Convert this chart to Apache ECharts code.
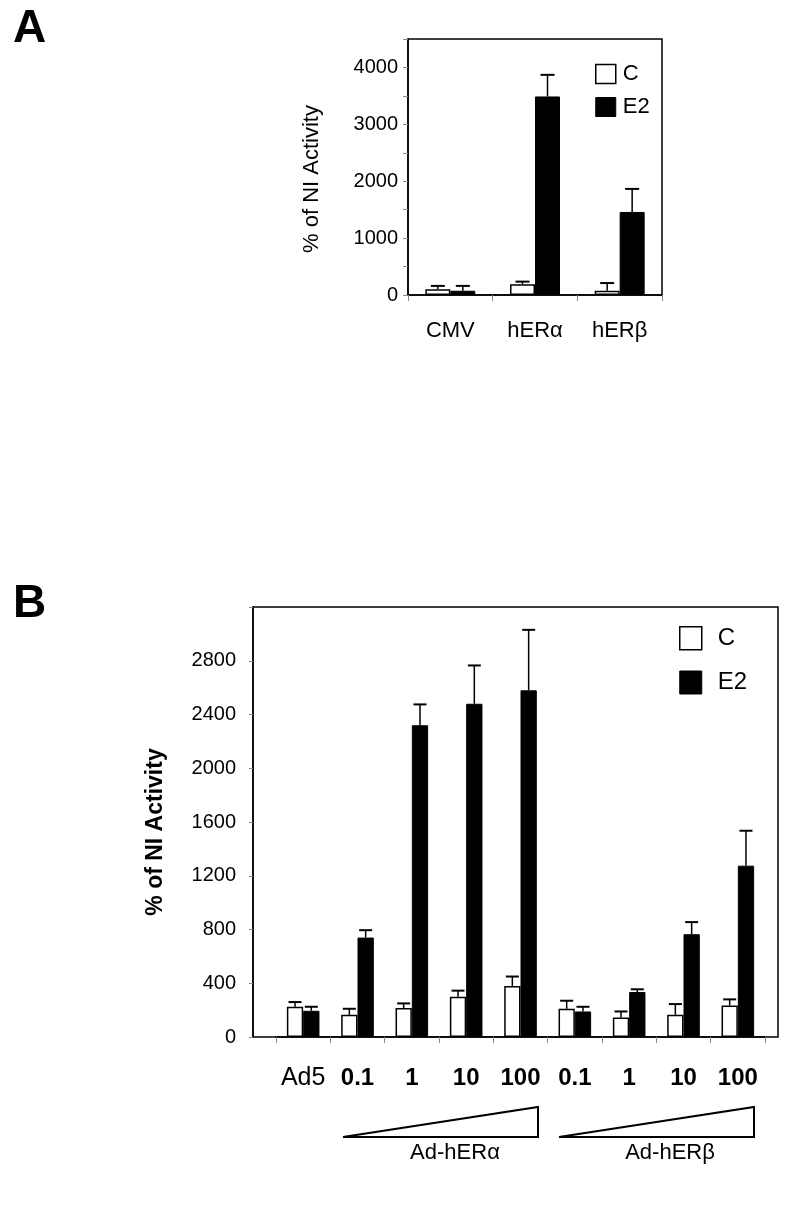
<!DOCTYPE html>
<html>
<head>
<meta charset="utf-8">
<script src="https://cdn.jsdelivr.net/npm/echarts@6.0.0/dist/echarts.min.js"></script>
<style>
html, body { margin: 0; padding: 0; background: #fff; }
#chart { width: 791px; height: 1205px; }
</style>
</head>
<body>
<div id="chart"></div>
<script>
// panel A
var catA = ['CMV', 'hERα', 'hERβ'];
var ctrlA = [100, 190, 75];
var ctrlErrA = [60, 45, 135];
var e2A = [75, 3490, 1460];
var e2ErrA = [85, 380, 405];

// panel B
var catB = ['Ad5', '0.1', '1', '10', '100', '0.1', '1', '10', '100'];
var ctrlB = [225, 165, 215, 300, 380, 210, 145, 165, 235];
var ctrlErrB = [35, 45, 35, 45, 70, 60, 45, 80, 45];
var e2B = [195, 740, 2320, 2480, 2580, 190, 335, 765, 1275];
var e2ErrB = [30, 55, 155, 285, 450, 35, 20, 90, 260];
var groupsB = ['Ad-hERα', 'Ad-hERβ'];

var FONT = 'Liberation Sans, Arial, sans-serif';

var dom = document.getElementById('chart');
var myChart = echarts.init(dom, null, { renderer: 'canvas' });

// error bars drawn on top of each bar
function errSeries(vals, errs, side, ratio, axis, cap) {
    return {
        type: 'custom',
        xAxisIndex: axis,
        yAxisIndex: axis,
        z: 5,
        silent: true,
        data: vals.map(function (v, i) { return [i, v, errs[i]]; }),
        encode: { x: 0, y: 1 },
        renderItem: function (params, api) {
            var band = api.size([1, 0])[0];
            var bw = band * ratio;
            var p0 = api.coord([api.value(0), api.value(1)]);
            var p1 = api.coord([api.value(0), api.value(1) + api.value(2)]);
            var x = p0[0] + side * bw / 2;
            return {
                type: 'group',
                children: [
                    { type: 'line', shape: { x1: x, y1: p0[1], x2: x, y2: p1[1] }, style: { stroke: '#000', lineWidth: 1.5 } },
                    { type: 'line', shape: { x1: x - cap, y1: p1[1], x2: x + cap, y2: p1[1] }, style: { stroke: '#000', lineWidth: 2 } }
                ]
            };
        }
    };
}

var whiteBar = { color: '#fff', borderColor: '#000', borderWidth: 1.5 };
var blackBar = { color: '#000', borderColor: '#000', borderWidth: 1 };

var option = {
    animation: false,
    backgroundColor: '#fff',
    textStyle: { fontFamily: FONT, color: '#000' },
    grid: [
        { left: 408, right: 129, top: 39, bottom: 910, show: true, borderColor: '#000', borderWidth: 1.5, outerBoundsMode: 'none' },
        { left: 276, right: 26, top: 607, bottom: 168, outerBoundsMode: 'none' },
        { left: 253, right: 13, top: 607, bottom: 168, show: true, borderColor: '#000', borderWidth: 1.5, outerBoundsMode: 'none' }
    ],
    legend: [
        {
            left: 590, top: 58, orient: 'vertical', selectedMode: false, icon: 'rect',
            itemWidth: 20, itemHeight: 19, itemGap: 11,
            textStyle: { fontFamily: FONT, fontSize: 22, lineHeight: 22, color: '#000', padding: [0, 0, 0, 2] },
            data: [
                { name: 'C', itemStyle: whiteBar },
                { name: 'E2', itemStyle: blackBar }
            ]
        },
        {
            left: 674, top: 621, orient: 'vertical', selectedMode: false, icon: 'rect',
            itemWidth: 22, itemHeight: 23, itemGap: 20,
            textStyle: { fontFamily: FONT, fontSize: 24, lineHeight: 24, color: '#000', padding: [0, 0, 0, 11] },
            data: [
                { name: 'C', itemStyle: whiteBar },
                { name: 'E2', itemStyle: blackBar }
            ]
        }
    ],
    xAxis: [
        {
            type: 'category', gridIndex: 0, data: catA,
            axisLine: { lineStyle: { color: '#000', width: 1.5 } },
            axisTick: { show: true, length: 6, lineStyle: { color: '#888' } },
            axisLabel: { fontFamily: FONT, fontSize: 22, lineHeight: 22, color: '#000', margin: 25 }
        },
        {
            type: 'category', gridIndex: 1,
            data: catB.map(function (c, i) {
                return i === 0 ? { value: c, textStyle: { fontWeight: 'normal', fontSize: 25 } } : c;
            }),
            axisLine: { lineStyle: { color: '#000', width: 1.5 } },
            axisTick: { show: true, length: 6, lineStyle: { color: '#888' } },
            axisLabel: { interval: 0, fontFamily: FONT, fontSize: 24, lineHeight: 24, fontWeight: 'bold', color: '#000', margin: 29 }
        },
        { type: 'value', gridIndex: 2, show: false }
    ],
    yAxis: [
        {
            type: 'value', gridIndex: 0, min: 0, max: 4500, interval: 500,
            name: '% of NI Activity', nameLocation: 'middle', nameGap: 85,
            nameTextStyle: { fontFamily: FONT, fontSize: 22, color: '#000', padding: [0, 24, 0, 0] },
            axisLine: { show: true, lineStyle: { color: '#000', width: 1.5 } },
            axisTick: { show: true, length: 5, lineStyle: { color: '#888' } },
            axisLabel: {
                fontFamily: FONT, fontSize: 20, color: '#000', margin: 10,
                formatter: function (v) { return v % 1000 === 0 ? v : ''; }
            },
            splitLine: { show: false }
        },
        {
            type: 'value', gridIndex: 1, min: 0, max: 3200, interval: 400, offset: 23,
            name: '% of NI Activity', nameLocation: 'middle', nameGap: 86,
            nameTextStyle: { fontFamily: FONT, fontSize: 23, fontWeight: 'bold', color: '#000', padding: [0, 20, 0, 0] },
            axisLine: { show: true, lineStyle: { color: '#000', width: 1.5 } },
            axisTick: { show: true, length: 4, lineStyle: { color: '#888' } },
            axisLabel: {
                fontFamily: FONT, fontSize: 20, color: '#000', margin: 17,
                formatter: function (v) { return v < 3200 ? v : ''; }
            },
            splitLine: { show: false }
        },
        { type: 'value', gridIndex: 2, show: false }
    ],
    series: [
        { name: 'C', type: 'bar', xAxisIndex: 0, yAxisIndex: 0, data: ctrlA, barWidth: '29.5%', barGap: '0%', itemStyle: whiteBar },
        { name: 'E2', type: 'bar', xAxisIndex: 0, yAxisIndex: 0, data: e2A, barWidth: '29.5%', barGap: '0%', itemStyle: blackBar },
        errSeries(ctrlA, ctrlErrA, -1, 0.295, 0, 7),
        errSeries(e2A, e2ErrA, 1, 0.295, 0, 7),
        { name: 'C', type: 'bar', xAxisIndex: 1, yAxisIndex: 1, data: ctrlB, barWidth: '30%', barGap: '0%', itemStyle: whiteBar },
        { name: 'E2', type: 'bar', xAxisIndex: 1, yAxisIndex: 1, data: e2B, barWidth: '30%', barGap: '0%', itemStyle: blackBar },
        errSeries(ctrlB, ctrlErrB, -1, 0.30, 1, 6.5),
        errSeries(e2B, e2ErrB, 1, 0.30, 1, 6.5)
    ],
    graphic: [
        { type: 'text', left: 13, top: 6, style: { text: 'A', font: 'bold 46px ' + FONT, fill: '#000' } },
        { type: 'text', left: 13, top: 581, style: { text: 'B', font: 'bold 46px ' + FONT, fill: '#000' } },
        {
            type: 'polygon',
            shape: { points: [[343, 1137], [538, 1137], [538, 1107]] },
            style: { fill: '#fff', stroke: '#000', lineWidth: 2 }
        },
        {
            type: 'polygon',
            shape: { points: [[559, 1137], [754, 1137], [754, 1107]] },
            style: { fill: '#fff', stroke: '#000', lineWidth: 2 }
        },
        { type: 'text', x: 455, y: 1153, style: { text: groupsB[0], font: '22px ' + FONT, fill: '#000', align: 'center', verticalAlign: 'middle' } },
        { type: 'text', x: 670, y: 1153, style: { text: groupsB[1], font: '22px ' + FONT, fill: '#000', align: 'center', verticalAlign: 'middle' } }
    ]
};

myChart.setOption(option);
window.addEventListener('resize', myChart.resize);
</script>
</body>
</html>
